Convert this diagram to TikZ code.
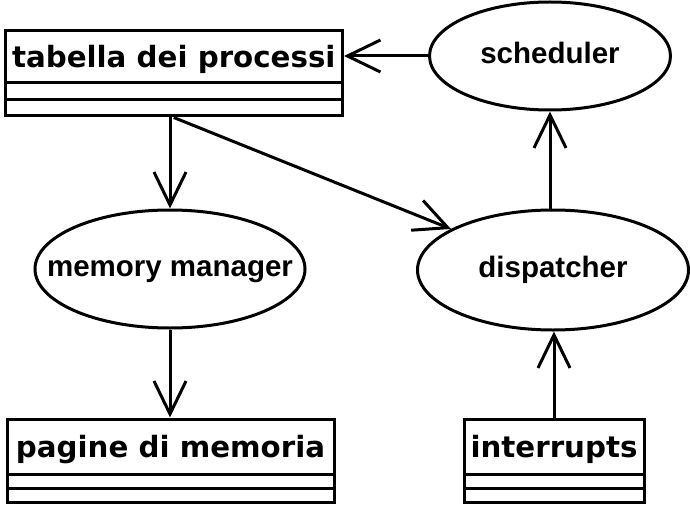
\documentclass[tikz,border=0pt]{standalone}
\usepackage{fontspec}
\newfontfamily\boxfont{DejaVu Sans}
\newfontfamily\ellfont{Liberation Sans}
\usetikzlibrary{shapes.geometric,arrows.meta}
\newcommand{\ellabel}[1]{\makebox[0pt][c]{#1}}
\tikzset{
  compart/.style={draw, rectangle, inner sep=0pt, line width=3pt},
  boxlabel/.style={compart, font={\fontsize{29.3}{30}\boxfont\bfseries}, text height=29pt, text depth=7pt},
  ellnode/.style={draw, ellipse, inner sep=0pt, line width=3pt,
    font={\fontsize{29.5}{30}\ellfont\bfseries}, text height=21pt, text depth=6pt},
  flow/.style={line width=3pt, -{Straight Barb[length=33pt, width=32pt, line width=3pt]}}
}
\begin{document}
\begin{tikzpicture}[x=1pt, y=-1pt]
\useasboundingbox (0,0) rectangle (690,508);
% tabella dei processi
\node[boxlabel, minimum width=337.5pt, minimum height=52pt] (tab) at (173.75,57) {tabella dei processi};
\node[compart, minimum width=337.5pt, minimum height=17pt] (tab2) at (173.75,91.5) {};
\node[compart, minimum width=337.5pt, minimum height=16pt] (tab3) at (173.75,108) {};
% pagine di memoria
\node[boxlabel, minimum width=327pt, minimum height=55pt] (pag) at (170.5,446.5) {pagine di memoria};
\node[compart, minimum width=327pt, minimum height=14pt] (pag2) at (170.5,481) {};
\node[compart, minimum width=327pt, minimum height=14pt] (pag3) at (170.5,495) {};
% interrupts
\node[boxlabel, minimum width=180pt, minimum height=55pt] (intr) at (554,446.5) {interrupts};
\node[compart, minimum width=180pt, minimum height=14pt] (intr2) at (554,481) {};
\node[compart, minimum width=180pt, minimum height=14pt] (intr3) at (554,495) {};
% ellipses
\node[ellnode, minimum width=241pt, minimum height=108pt] (sched) at (550,56) {\ellabel{scheduler}};
\node[ellnode, minimum width=270pt, minimum height=118pt] (mm) at (170,269) {\ellabel{memory manager}};
\node[ellnode, minimum width=271pt, minimum height=120pt] (disp) at (553,270) {\ellabel{dispatcher}};
% connectors
\draw[flow] (sched.west) -- (sched.west -| tab.east);
\draw[flow] (tab3.south -| mm.north) -- (mm.north);
\draw[flow] (tab3.south) -- (disp);
\draw[flow] (mm.south) -- (mm.south |- pag.north);
\draw[flow] (disp.north -| sched.south) -- (sched.south);
\draw[flow] (intr.north) -- (intr.north |- disp.south);
\end{tikzpicture}
\end{document}
